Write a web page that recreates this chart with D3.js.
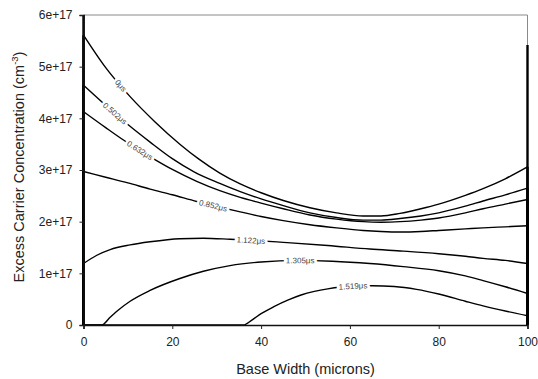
<!DOCTYPE html>
<html>
<head>
<meta charset="utf-8">
<script src="https://cdn.jsdelivr.net/npm/d3@7"></script>
<style>
  body { margin: 0; background: #fff; }
  svg { display: block; font-family: "Liberation Sans", Arial, sans-serif; }
</style>
</head>
<body>
<svg id="chart" width="538" height="379"></svg>
<script>
// values in units of 1e17 cm^-3, x in microns
const UNIT = 1e17
const curveLabels = ["0μs", "0.502μs", "0.632μs", "0.852μs", "1.122μs", "1.305μs", "1.519μs"]
const labelAt = [8.4, 7.1, 12.7, 29.2, 37.7, 48.8, 60.7]

const t0000 = [[0,5.61],[5,4.98],[10.5,4.42],[16,3.94],[21.7,3.50],[26,3.21],[30.7,2.94],[35.3,2.73],[40,2.56],[45,2.41],[51,2.27],[57,2.17],[63,2.11],[67,2.11],[71.3,2.16],[76,2.25],[80,2.34],[86,2.51],[90,2.64],[95,2.83],[100,3.06]]
const t0502 = [[0,4.64],[5,4.25],[10,3.88],[15,3.54],[20,3.22],[25,2.96],[30.7,2.74],[35.3,2.58],[40,2.44],[45,2.31],[51,2.17],[57,2.08],[63,2.03],[67,2.03],[71.3,2.06],[76,2.11],[80,2.17],[86,2.30],[90,2.40],[95,2.52],[100,2.65]]
const t0632 = [[0,4.13],[5,3.82],[9,3.58],[15.7,3.22],[20,3.01],[25.5,2.78],[30.7,2.60],[35.3,2.47],[40,2.36],[45,2.25],[51,2.13],[57,2.05],[63,2.00],[67,1.99],[71.3,2.00],[76,2.03],[80,2.07],[86,2.17],[90,2.25],[95,2.34],[100,2.43]]
const t0852 = [[0,2.97],[5,2.86],[10,2.75],[15,2.63],[20,2.52],[25.5,2.39],[30.7,2.28],[35.3,2.19],[40,2.10],[45,2.02],[51,1.94],[57,1.88],[63,1.83],[67,1.81],[71.3,1.80],[76,1.81],[80,1.83],[86,1.86],[90,1.88],[95,1.90],[100,1.92]]
const t1122 = [[0,1.19],[3,1.35],[6,1.46],[10.5,1.55],[15,1.61],[21.7,1.67],[27,1.68],[33,1.66],[37.7,1.64],[45,1.60],[55,1.54],[64.5,1.47],[72,1.43],[80,1.38],[86,1.33],[90,1.29],[95,1.25],[100,1.19]]
const t1305 = [[0,0],[4.1,0],[6,0.15],[8,0.30],[10.5,0.46],[15,0.67],[21.7,0.90],[27,1.04],[33,1.15],[40,1.22],[48,1.25],[56,1.235],[64.5,1.19],[72,1.13],[80,1.05],[86,0.95],[90,0.86],[95,0.74],[100,0.61]]
const t1519 = [[0,0],[36,0],[38,0.10],[40,0.22],[43,0.36],[46,0.48],[49,0.58],[52,0.65],[55,0.70],[58,0.735],[61,0.755],[65,0.76],[70,0.745],[75,0.69],[80,0.60],[86,0.46],[90,0.37],[95,0.27],[100,0.18]]
const allCurves = [t0000, t0502, t0632, t0852, t1122, t1305, t1519]

// steep boundary spikes at both contacts
const edgeSpikes = [[0, 6.0], [100, 5.42]]

const yTicks = [0, 1, 2, 3, 4, 5, 6]
const xTicks = [0, 20, 40, 60, 80, 100]

const margin = { top: 15, right: 10.5, bottom: 54, left: 83.5 }
const W = 538, H = 379
const width = W - margin.left - margin.right
const height = H - margin.top - margin.bottom

const x = d3.scaleLinear().domain([0, 100]).range([0, width])
const y = d3.scaleLinear().domain([0, 6 * UNIT]).range([height, 0])

const svg = d3.select("#chart")
const g = svg.append("g").attr("transform", `translate(${margin.left},${margin.top})`)

// frame top and right
g.append("path")
    .attr("d", `M0,0H${width}V${height}`)
    .attr("fill", "none")
    .attr("stroke", "#8a8a8a")
    .attr("stroke-width", 1)

const line = d3.line()
    .x((d) => x(d[0]))
    .y((d) => y(d[1] * UNIT))
    .curve(d3.curveMonotoneX)

g.append("g")
    .selectAll("path")
    .data(allCurves)
    .join("path")
    .attr("fill", "none")
    .attr("stroke", "#000")
    .attr("stroke-width", 1.4)
    .attr("d", line)

// vertical runs at the contacts: each curve falls to zero at x=0 and x=100
const edges = []
allCurves.forEach((c) => {
    edges.push([c[0][0], c[0][1], 0])
    edges.push([c[c.length - 1][0], c[c.length - 1][1], 0])
})
edgeSpikes.forEach((s) => edges.push([s[0], s[1], 0]))
g.append("g")
    .selectAll("line")
    .data(edges)
    .join("line")
    .attr("x1", (d) => x(d[0]))
    .attr("x2", (d) => x(d[0]))
    .attr("y1", (d) => y(d[1] * UNIT))
    .attr("y2", (d) => y(d[2] * UNIT))
    .attr("stroke", "#000")
    .attr("stroke-width", 2.4)

// axes
const yAxis = g.append("g")
    .call(d3.axisLeft(y)
        .tickValues(yTicks.map((v) => v * UNIT))
        .tickSize(4)
        .tickPadding(7)
        .tickFormat((d) => (d === 0 ? "0" : d3.format(".0e")(d))))
const xAxis = g.append("g")
    .attr("transform", `translate(0,${height})`)
    .call(d3.axisBottom(x).tickValues(xTicks).tickSize(4).tickPadding(8))

;[yAxis, xAxis].forEach((a) => {
    a.selectAll("text").attr("font-size", 12).attr("fill", "#222").attr("font-family", null)
    a.selectAll("line").attr("stroke", "#222")
    a.select(".domain").attr("stroke", "#111").attr("stroke-width", 1.6)
})

// inline curve labels
function valueAt(c, xv) {
    for (let i = 1; i < c.length; i++) {
        if (c[i][0] >= xv) {
            const t = (xv - c[i - 1][0]) / (c[i][0] - c[i - 1][0])
            return c[i - 1][1] + t * (c[i][1] - c[i - 1][1])
        }
    }
    return c[c.length - 1][1]
}
const labelData = allCurves.map((c, i) => {
    const xv = labelAt[i]
    const px0 = x(xv - 2), py0 = y(valueAt(c, xv - 2) * UNIT)
    const px1 = x(xv + 2), py1 = y(valueAt(c, xv + 2) * UNIT)
    const ang = (Math.atan2(py1 - py0, px1 - px0) * 180) / Math.PI
    return { text: curveLabels[i], px: x(xv), py: y(valueAt(c, xv) * UNIT), ang }
})
g.append("g")
    .selectAll("text")
    .data(labelData)
    .join("text")
    .attr("transform", (d) => `translate(${d.px},${d.py}) rotate(${d.ang})`)
    .attr("text-anchor", "middle")
    .attr("dy", "0.35em")
    .attr("font-size", 8)
    .attr("fill", "#444")
    .attr("stroke", "#fff")
    .attr("stroke-width", 5)
    .attr("paint-order", "stroke")
    .text((d) => d.text)

// axis titles
svg.append("text")
    .attr("x", margin.left + width / 2)
    .attr("y", 374)
    .attr("text-anchor", "middle")
    .attr("font-size", 14.5)
    .attr("fill", "#222")
    .text("Base Width (microns)")

const yt = svg.append("text")
    .attr("transform", `translate(24,${margin.top + height / 2 - 3}) rotate(-90)`)
    .attr("text-anchor", "middle")
    .attr("font-size", 14.5)
    .attr("fill", "#222")
yt.append("tspan").text("Excess Carrier Concentration (cm")
yt.append("tspan").attr("dy", -6).attr("font-size", 9.5).text("-3")
yt.append("tspan").attr("dy", 6).text(")")
</script>
</body>
</html>
